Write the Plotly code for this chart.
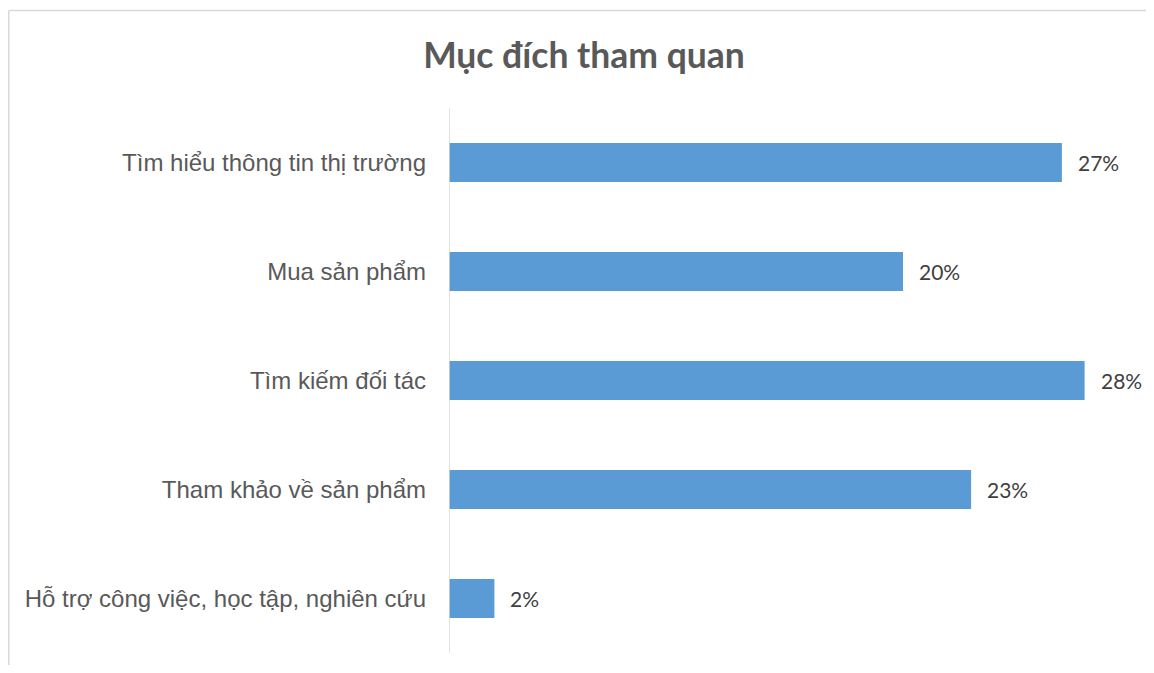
import plotly.graph_objects as go

categories = [
    "Tìm hiểu thông tin thị trường",
    "Mua sản phẩm",
    "Tìm kiếm đối tác",
    "Tham khảo về sản phẩm",
    "Hỗ trợ công việc, học tập, nghiên cứu",
]
values = [0.27, 0.20, 0.28, 0.23, 0.02]
labels = ["27%", "20%", "28%", "23%", "2%"]

OFF = 8  # page body margin
W, H = 1154 - 2 * OFF, 673 - 2 * OFF
L, T = 449 - OFF, 108 - OFF
R = W - (1130 - OFF)
B = H - (653 - OFF)

fig = go.Figure()
fig.add_trace(go.Bar(
    y=categories, x=values, orientation="h",
    marker=dict(color="#5B9BD5", line=dict(width=0)),
    hoverinfo="skip",
))

for c, v, t in zip(categories, values, labels):
    fig.add_annotation(x=v, y=c, text=t, showarrow=False, xanchor="left",
                       xshift=14, font=dict(family="Lato", size=21, color="#404040"))

pw = W - L - R
ph = H - T - B
def px_x(p):
    return (p - OFF - L) / pw
def px_y(p):
    return (H - B - (p - OFF)) / ph

# outer chart border (top and left edges visible)
fig.add_shape(type="line", xref="paper", yref="paper",
              x0=px_x(8.8), x1=px_x(1154 + 5), y0=px_y(10.5), y1=px_y(10.5),
              line=dict(color="#D9D9D9", width=1.5), layer="below")
fig.add_shape(type="line", xref="paper", yref="paper",
              x0=px_x(8.8), x1=px_x(8.8), y0=px_y(10.5), y1=px_y(680),
              line=dict(color="#D9D9D9", width=1.5), layer="below")

fig.update_layout(
    width=W, height=H,
    margin=dict(l=L, r=R, t=T, b=B),
    paper_bgcolor="white", plot_bgcolor="white",
    title=dict(text="<b>Mục đích tham quan</b>", x=(584 - OFF) / W, xref="container", xanchor="center",
               y=1 - (56 - OFF) / H, yref="container", yanchor="middle",
               font=dict(family="Lato", size=35.5, color="#595959")),
    showlegend=False,
    bargap=0.64,
    xaxis=dict(range=[0, 0.30], visible=False, fixedrange=True),
    yaxis=dict(autorange="reversed", showgrid=False, zeroline=False,
               showline=False, ticks="", ticklabelstandoff=22,
               tickfont=dict(family="Liberation Sans", size=24, color="#595959")),
)
fig.add_shape(type="line", xref="x", yref="paper", x0=0, x1=0, y0=0, y1=1,
              line=dict(color="#D9D9D9", width=1.5))

fig.write_html("out.html")
